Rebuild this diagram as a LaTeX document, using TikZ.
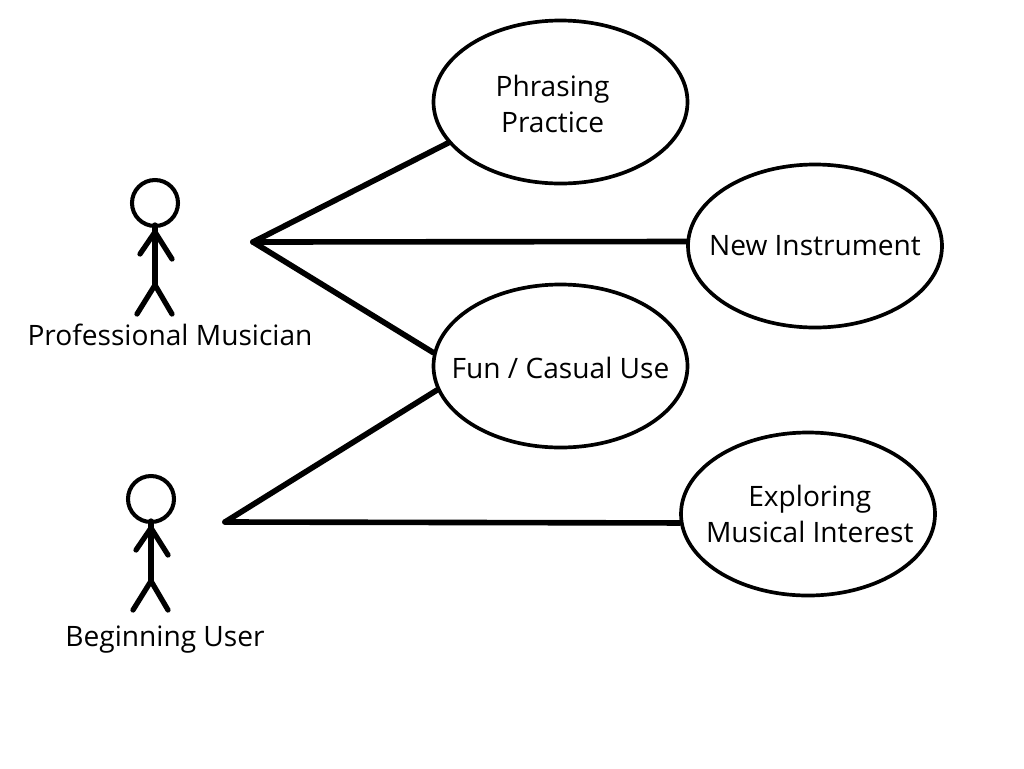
\documentclass[tikz,border=0pt]{standalone}
\usepackage{fontspec}
\setmainfont{Open Sans}
\usetikzlibrary{positioning, shapes.geometric}
\tikzset{
usecase/.style={draw, ellipse, line width=2.1pt, minimum width=254*0.02cm, minimum height=163*0.02cm, inner xsep=-55pt, inner ysep=-12pt, align=center, font=\fontsize{16}{20.4}\selectfont},
actorname/.style={font=\fontsize{16}{20.4}\selectfont, inner sep=0pt},
assoc/.style={line width=3.2pt, line cap=round},
limb/.style={line width=3pt, line cap=round},
}
\newcommand{\casetext}[3]{\raisebox{#2}[12pt][4pt]{#3\hspace*{#1}}}
\newcommand{\stickfigure}[2]{
\draw [line width=2.3pt] (#1,#2) circle (23);
\draw [limb] (#1,#2+22) -- (#1,#2+82);
\draw [limb] (#1-15,#2+51) -- (#1,#2+29) -- (#1+17,#2+56);
\draw [limb] (#1-18,#2+111) -- (#1,#2+82) -- (#1+17,#2+111);
}
\begin{document}
\begin{tikzpicture}[x=0.02cm, y=-0.02cm]
\useasboundingbox (0,0) rectangle (1024,768);

\node [usecase] (phrasing) at (560.5,102) {\casetext{9pt}{-3.3pt}{Phrasing}\\\casetext{9pt}{-3.3pt}{Practice}};
\node [usecase] (instrument) at (815,246) {New Instrument};
\node [usecase] (casual) at (560.5,366) {\casetext{0pt}{-3.3pt}{Fun / Casual Use}};
\node [usecase] (exploring) at (808,514) {\hspace*{2pt}Exploring\\\hspace*{2pt}Musical Interest};

\stickfigure{155}{203}
\stickfigure{151}{499}

\node [actorname] (professional) at (170,335) {Professional Musician};
\node [actorname] (beginner) at (165,636) [yshift=-3.5*0.02cm] {Beginning User};

\coordinate (prohub) at (253,242);
\coordinate (beghub) at (225,522);

\draw [assoc] (prohub) -- (phrasing.200);
\draw [assoc] (prohub) -- (instrument.178);
\draw [assoc] (prohub) -- (casual.174);
\draw [assoc] (beghub) -- (casual.191);
\draw [assoc] (beghub) -- (exploring.184);
\end{tikzpicture}
\end{document}
